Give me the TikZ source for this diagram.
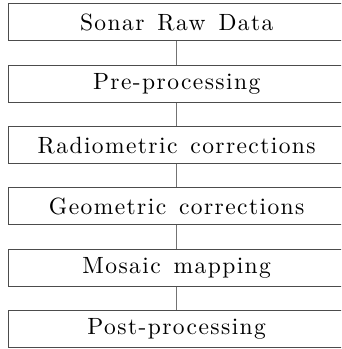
\documentclass[tikz,border=0pt]{standalone}
\usepackage{fontspec}
\usepackage{tikz}
\newfontfamily\stagefont{lmroman10-regular.otf}[LetterSpace = 6, WordSpace = 1.4]

\tikzset{stage/.style = {draw = black!70, line width = 0.9pt, minimum width = 337pt, minimum height = 37pt, inner sep = 0pt, font = \stagefont\fontsize{23.5}{27}\selectfont}}

\begin{document}
\begin{tikzpicture}[x = 1pt, y = 1pt]
\useasboundingbox (0,0) rectangle (341,-349);
\begin{scope}
\clip (0,0) rectangle (341,-349);
\node[stage] (raw) at (176.7,-22.3) {Sonar Raw Data};
\node[stage] (pre) at (176.7,-83.7) {Pre-processing};
\node[stage] (radio) at (176.7,-145.3) {Radiometric corrections};
\node[stage] (geo) at (176.7,-206.4) {Geometric corrections};
\node[stage] (mosaic) at (176.7,-267.7) {Mosaic mapping};
\node[stage] (post) at (176.7,-328.8) {Post-processing};

\draw[black!55, line width = 0.9pt] (raw)--(pre);
\draw[black!55, line width = 0.9pt] (pre)--(radio);
\draw[black!55, line width = 0.9pt] (radio)--(geo);
\draw[black!55, line width = 0.9pt] (geo)--(mosaic);
\draw[black!55, line width = 0.9pt] (mosaic)--(post);
\end{scope}
\end{tikzpicture}
\end{document}
